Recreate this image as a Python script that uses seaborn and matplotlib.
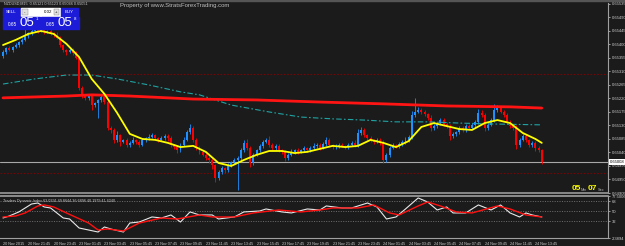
import numpy as np
import seaborn as sns
import matplotlib.pyplot as plt
from matplotlib.patches import Rectangle
from matplotlib.transforms import blended_transform_factory

W, H = 625, 246
BG = "#1b1b1b"
BULL = "#1e90ff"
BEAR = "#ff0000"

# NZDUSD M15 candles (open of first bar, then closes; wicks in points)
first_open = 0.65360
closes = [
    0.65375, 0.65388, 0.65382, 0.65392, 0.65398, 0.65408, 0.65415, 0.65428, 0.65438, 0.65445,
    0.65448, 0.65445, 0.65448, 0.65442, 0.65445, 0.65438, 0.65432, 0.65422, 0.65398, 0.65382,
    0.65375, 0.65382, 0.65372, 0.65355, 0.65255, 0.65232, 0.65222, 0.65228, 0.65198, 0.65205,
    0.65215, 0.65225, 0.65208, 0.65122, 0.65115, 0.65082, 0.65098, 0.65075, 0.65082, 0.65065,
    0.65072, 0.65082, 0.65075, 0.65065, 0.65082, 0.65088, 0.65092, 0.65098, 0.65088, 0.65082,
    0.65088, 0.65095, 0.65088, 0.65065, 0.65058, 0.65048, 0.65065, 0.65082, 0.65108, 0.65122,
    0.65082, 0.65055, 0.65042, 0.65032, 0.65022, 0.65015, 0.64998, 0.64955, 0.64975, 0.64988,
    0.64982, 0.64998, 0.65008, 0.65015, 0.65022, 0.65048, 0.65072, 0.65055, 0.65005, 0.65032,
    0.65048, 0.65062, 0.65075, 0.65082, 0.65065, 0.65055, 0.65062, 0.65048, 0.65042, 0.65022,
    0.65032, 0.65042, 0.65048, 0.65042, 0.65048, 0.65055, 0.65048, 0.65055, 0.65062, 0.65065,
    0.65055, 0.65068, 0.65082, 0.65065, 0.65058, 0.65062, 0.65065, 0.65062, 0.65058, 0.65065,
    0.65072, 0.65065, 0.65105, 0.65115, 0.65098, 0.65088, 0.65082, 0.65075, 0.65082, 0.65072,
    0.65015, 0.65032, 0.65055, 0.65065, 0.65062, 0.65068, 0.65075, 0.65082, 0.65092, 0.65165,
    0.65175, 0.65182, 0.65175, 0.65168, 0.65155, 0.65122, 0.65128, 0.65138, 0.65148, 0.65135,
    0.65128, 0.65095, 0.65102, 0.65108, 0.65122, 0.65115, 0.65128, 0.65122, 0.65132, 0.65142,
    0.65172, 0.65165, 0.65122, 0.65132, 0.65148, 0.65182, 0.65188, 0.65175, 0.65165, 0.65142,
    0.65128, 0.65122, 0.65065, 0.65082, 0.65095, 0.65082, 0.65065, 0.65072, 0.65055, 0.65048,
    0.65008,
]
up_wick = [
    5, 3, 6, 4, 8, 5, 6, 25, 5, 7,
    8, 4, 6, 5, 3, 6, 4, 8, 6, 5,
    4, 7, 5, 6, 8, 5, 4, 7, 5, 3,
    4, 8, 6, 10, 5, 7, 12, 5, 4, 6,
    5, 8, 4, 6, 7, 5, 9, 6, 4, 5,
    6, 8, 5, 7, 4, 6, 5, 9, 7, 14,
    6, 5, 8, 4, 6, 5, 7, 4, 6, 8,
    5, 7, 4, 6, 5, 8, 10, 12, 6, 7,
    5, 6, 8, 7, 12, 5, 6, 7, 4, 6,
    5, 8, 4, 6, 5, 7, 4, 6, 8, 5,
    7, 6, 10, 5, 4, 6, 5, 7, 4, 6,
    5, 8, 12, 10, 6, 5, 7, 4, 6, 5,
    8, 6, 7, 5, 4, 6, 5, 8, 6, 12,
    45, 8, 6, 7, 5, 9, 6, 5, 7, 8,
    5, 6, 7, 4, 6, 5, 8, 6, 5, 7,
    12, 10, 8, 6, 7, 20, 9, 6, 5, 7,
    6, 5, 8, 7, 5, 6, 4, 7, 5, 6,
    4,
]
dn_wick = [
    4, 6, 5, 7, 4, 6, 5, 4, 6, 5,
    4, 6, 5, 7, 4, 5, 6, 4, 7, 8,
    10, 5, 6, 4, 8, 12, 7, 6, 15, 5,
    50, 6, 5, 8, 10, 12, 6, 15, 5, 7,
    6, 5, 8, 6, 5, 7, 6, 4, 8, 6,
    5, 7, 9, 6, 8, 10, 6, 5, 4, 6,
    7, 6, 8, 5, 7, 9, 12, 15, 8, 6,
    10, 7, 6, 5, 100, 6, 5, 8, 12, 6,
    5, 7, 6, 5, 7, 6, 8, 5, 6, 12,
    6, 5, 7, 6, 5, 8, 6, 5, 7, 6,
    8, 5, 6, 7, 5, 6, 8, 5, 7, 6,
    5, 7, 6, 8, 6, 5, 7, 6, 5, 8,
    10, 8, 6, 5, 7, 6, 5, 7, 6, 8,
    6, 5, 7, 6, 8, 10, 6, 5, 7, 6,
    5, 12, 7, 6, 5, 8, 6, 7, 5, 6,
    6, 8, 10, 6, 5, 7, 6, 5, 8, 7,
    6, 8, 12, 6, 5, 7, 8, 6, 9, 7,
    6,
]

# yellow moving average
ma_bars = list(range(0, 169, 4)) + [170]
ma_vals = [0.65398, 0.65415, 0.65435, 0.65445, 0.65435, 0.65402, 0.65358, 0.65285, 0.65235, 0.65172,
           0.65102, 0.65085, 0.65082, 0.65072, 0.65058, 0.65062, 0.65042, 0.65005, 0.64995, 0.65015,
           0.65032, 0.65045, 0.65045, 0.65038, 0.65042, 0.65052, 0.65062, 0.65058, 0.65062, 0.65082,
           0.65072, 0.65058, 0.65078, 0.65125, 0.65138, 0.65128, 0.65118, 0.65115, 0.65138, 0.65148,
           0.65138, 0.65105, 0.65085, 0.65072]

# thick red long average
slow_bars = [0, 20, 28, 40, 60, 80, 100, 120, 140, 160, 170]
slow_vals = [0.65222, 0.65228, 0.65232, 0.65228, 0.65218, 0.65215, 0.65208, 0.65202, 0.65195, 0.65192, 0.65188]

# teal dash-dot average
teal_bars = [0, 10, 20, 28, 36, 46, 56, 62, 72, 84, 94, 104, 114, 124, 134, 144, 154, 170]
teal_vals = [0.65268, 0.65285, 0.65298, 0.65298, 0.65285, 0.65265, 0.65242, 0.65232, 0.65198, 0.65175,
             0.65158, 0.65152, 0.65148, 0.65142, 0.65142, 0.65138, 0.65135, 0.65132]

level_hi = 0.65302
level_lo = 0.64972
bid = 0.65008

price_ticks = [0.64905, 0.64950, 0.64995, 0.65040, 0.65085, 0.65130, 0.65175, 0.65220,
               0.65265, 0.65310, 0.65355, 0.65400, 0.65445, 0.65490, 0.65535]

# Traders Dynamic Index
tdi_bars = [0, 2, 5, 9, 11, 13, 15, 19, 21, 24, 30, 32, 34, 38, 40, 43, 47, 50, 53, 56,
            59, 62, 66, 68, 73, 76, 81, 83, 88, 91, 96, 100, 102, 107, 110, 115, 118, 121, 124, 127,
            131, 134, 137, 140, 142, 146, 150, 154, 157, 160, 163, 165, 167, 170]
tdi_vals = [38.2, 41.8, 49.0, 63.2, 65.0, 57.9, 56.1, 38.2, 36.4, 20.3,
            13.1, 22.1, 18.5, 13.1, 29.2, 31.0, 40.0, 38.2, 43.6, 31.0,
            49.0, 43.6, 43.6, 36.4, 40.0, 49.0, 50.7, 54.3, 49.0, 47.2,
            54.3, 52.5, 59.7, 56.1, 56.1, 65.0, 57.9, 36.4, 40.0, 54.3,
            74.0, 66.8, 52.5, 57.9, 47.2, 47.2, 61.5, 52.5, 61.5, 47.2,
            40.0, 47.2, 43.6, 40.0]
sig_bars = [0, 4, 7, 11, 13, 16, 20, 27, 30, 33, 38, 43, 50, 55, 62, 66, 73, 79, 87, 94,
            100, 104, 112, 117, 122, 125, 131, 134, 138, 143, 148, 156, 160, 165, 170]
sig_vals = [40.0, 41.8, 47.2, 59.7, 61.5, 57.9, 47.2, 29.2, 16.7, 18.5,
            14.9, 29.2, 38.2, 36.4, 43.6, 40.0, 40.0, 47.2, 52.5, 49.0,
            52.5, 56.1, 56.1, 61.5, 47.2, 43.6, 59.7, 66.8, 59.7, 49.0,
            47.2, 59.7, 54.3, 43.6, 40.0]
tdi_levels = [68, 50, 32]

time_labels = ["20 Nov 2015", "20 Nov 21:45", "20 Nov 23:45", "23 Nov 01:45", "23 Nov 03:45",
               "23 Nov 05:45", "23 Nov 07:45", "23 Nov 09:45", "23 Nov 11:45", "23 Nov 13:45",
               "23 Nov 15:45", "23 Nov 17:45", "23 Nov 19:45", "23 Nov 21:45", "23 Nov 23:45",
               "24 Nov 01:45", "24 Nov 03:45", "24 Nov 05:45", "24 Nov 07:45", "24 Nov 09:45",
               "24 Nov 11:45", "24 Nov 13:45"]


def fx(px):
    return px / W


def fy(py):
    return 1 - py / H


sns.set_theme(style="dark", rc={"axes.facecolor": BG, "figure.facecolor": BG,
                                "axes.edgecolor": "#9a9a9a", "grid.color": BG})
plt.rcParams["font.family"] = ["Liberation Sans", "DejaVu Sans"]

fig = plt.figure(figsize=(W / 100, H / 100), dpi=100)
ax = fig.add_axes([0, fy(193), fx(608), (193 - 3) / H])
axi = fig.add_axes([0, fy(238), fx(608), (238 - 196) / H])

# candles
o = np.array([first_open] + closes[:-1])
c = np.array(closes)
idx = np.arange(len(c))
hi = np.maximum(o, c) + np.array(up_wick) / 1e5
lo = np.minimum(o, c) - np.array(dn_wick) / 1e5
cols = np.where(c >= o, BULL, BEAR)
ax.vlines(idx, lo, hi, colors=cols, lw=0.6, zorder=2)
ax.bar(idx, np.maximum(np.abs(c - o), 0.000012), bottom=np.minimum(o, c), width=0.62,
       color=cols, linewidth=0, zorder=2)

ax.axhline(level_hi, color="#8b0000", lw=0.6, ls=(0, (2, 2)), zorder=1)
ax.axhline(level_lo, color="#8b0000", lw=0.6, ls=(0, (2, 2)), zorder=1)
ax.axhline(bid, color="#a8a8a8", lw=0.8, zorder=1)

sns.lineplot(x=teal_bars, y=teal_vals, ax=ax, color="#1fa3a3", lw=0.8,
             linestyle=(0, (5, 2, 1.5, 2)), zorder=3)
sns.lineplot(x=slow_bars, y=slow_vals, ax=ax, color="#ff1414", lw=2.0, zorder=3)
sns.lineplot(x=ma_bars, y=ma_vals, ax=ax, color="#ffff00", lw=1.3, zorder=4)

ax.set_xlim(-0.95, 190.9)
ax.set_ylim(0.64905, 0.65538)
ax.yaxis.tick_right()
ax.set_yticks(price_ticks)
ax.set_yticklabels([f"{p:.5f}" for p in price_ticks])
ax.set_xticks([])
ax.tick_params(axis="y", colors="#d0d0d0", labelsize=3, length=1.5, width=0.5, pad=1)
ax.set_xlabel("")
ax.set_ylabel("")
for s in ["left", "top"]:
    ax.spines[s].set_visible(False)
ax.spines["right"].set_color("#a0a0a0")
ax.spines["right"].set_linewidth(0.8)
ax.spines["bottom"].set_color("#9a9a9a")
ax.spines["bottom"].set_linewidth(1.2)

tr = blended_transform_factory(ax.transAxes, ax.transData)
ax.text(1.003, bid, f"{bid:.5f}", transform=tr, fontsize=3, color="black", va="center",
        ha="left", bbox=dict(boxstyle="square,pad=0.15", fc="white", ec="none"), zorder=6)

# indicator panel
for lv in tdi_levels:
    axi.axhline(lv, color="#8a8a8a", lw=0.5, ls=(0, (1.5, 2)))
sns.lineplot(x=tdi_bars, y=tdi_vals, ax=axi, color="#e8e8e8", lw=0.8)
sns.lineplot(x=sig_bars, y=sig_vals, ax=axi, color="#ff1010", lw=1.0)
axi.set_xlim(-0.95, 190.9)
axi.set_ylim(2.3894, 77.5006)
axi.yaxis.tick_right()
axi.set_yticks([2.3894, 32, 50, 68, 77.5006])
axi.set_yticklabels(["2.3894", "32", "50", "68", "77.5006"])
axi.tick_params(axis="y", colors="#d0d0d0", labelsize=3, length=1.5, width=0.5, pad=1)
tick_pos = list(range(0, 169, 8))
axi.set_xticks(tick_pos)
axi.set_xticklabels(time_labels)
axi.tick_params(axis="x", colors="#d0d0d0", labelsize=2.7, length=2, width=0.5, pad=0.8)
for lbl in axi.get_xticklabels():
    lbl.set_ha("left")
axi.set_xlabel("")
axi.set_ylabel("")
axi.spines["left"].set_visible(False)
for s in ["right", "top", "bottom"]:
    axi.spines[s].set_color("#a0a0a0")
    axi.spines[s].set_linewidth(0.8)
axi.spines["top"].set_linewidth(1.2)
axi.text(0.005, 0.93, "Traders Dynamic Index 63.0391 49.8644 36.6896 40.1979 41.4240",
         transform=axi.transAxes, fontsize=2.7, color="#c8c8c8", va="top", ha="left")

# header texts
fig.patches.append(Rectangle((0, fy(1)), 1, 1 / H, transform=fig.transFigure, color="#555555"))
fig.text(fx(4), fy(4), "NZDUSD,M15  0.65121 0.65123 0.65046 0.65051", fontsize=2.7,
         color="#c8c8c8", va="center", ha="left")
fig.text(fx(120), fy(5.5), "Property of www.StratsForexTrading.com", fontsize=4.3,
         color="#c0c0c0", va="center", ha="left")

# one-click trading panel
BLUE = "#1c1cd8"
for (x0, y0, x1, y1, col) in [(3, 8, 20, 16, BLUE), (21, 8, 60, 16, "white"),
                              (61, 8, 78, 16, BLUE), (3, 17, 40, 29, BLUE), (41, 17, 79, 29, BLUE)]:
    fig.patches.append(Rectangle((fx(x0), fy(y1)), (x1 - x0) / W, (y1 - y0) / H,
                                 transform=fig.transFigure, color=col, zorder=5))
for (x0, x1) in [(22, 28), (54, 59)]:
    fig.patches.append(Rectangle((fx(x0), fy(15)), (x1 - x0) / W, 6 / H, transform=fig.transFigure,
                                 fc="#e0e0e0", ec="#808080", lw=0.3, zorder=6))
txt = dict(va="center", zorder=7)
fig.text(fx(11.5), fy(12), "SELL", fontsize=3.2, color="white", ha="center", **txt)
fig.text(fx(69.5), fy(12), "BUY", fontsize=3.2, color="white", ha="center", **txt)
fig.text(fx(25), fy(12), "-", fontsize=3.2, color="black", ha="center", **txt)
fig.text(fx(56.5), fy(12), "+", fontsize=3.2, color="black", ha="center", **txt)
fig.text(fx(52), fy(12), "0.02", fontsize=3.2, color="black", ha="right", **txt)
for (xs, sup) in [(3, "1"), (41, "8")]:
    fig.text(fx(xs + 5), fy(25), "0.65", fontsize=3.4, color="white", ha="left", **txt)
    fig.text(fx(xs + 16), fy(23.5), "05", fontsize=9.5, color="white", ha="left", **txt)
    fig.text(fx(xs + 32.5), fy(19.5), sup, fontsize=3.2, color="white", ha="left", **txt)

# bar countdown
fig.text(fx(572), fy(188), "05", fontsize=6, color="#ffff00", ha="left", va="center",
         fontweight="bold")
fig.text(fx(581), fy(190), "Min", fontsize=2.8, color="#b0b0b0", ha="left", va="center")
fig.text(fx(588), fy(188), "07", fontsize=6, color="#ffff00", ha="left", va="center",
         fontweight="bold")
fig.text(fx(597.5), fy(190), "Sec", fontsize=2.8, color="#b0b0b0", ha="left", va="center")

fig.savefig("out.png", dpi=100, facecolor=BG)
